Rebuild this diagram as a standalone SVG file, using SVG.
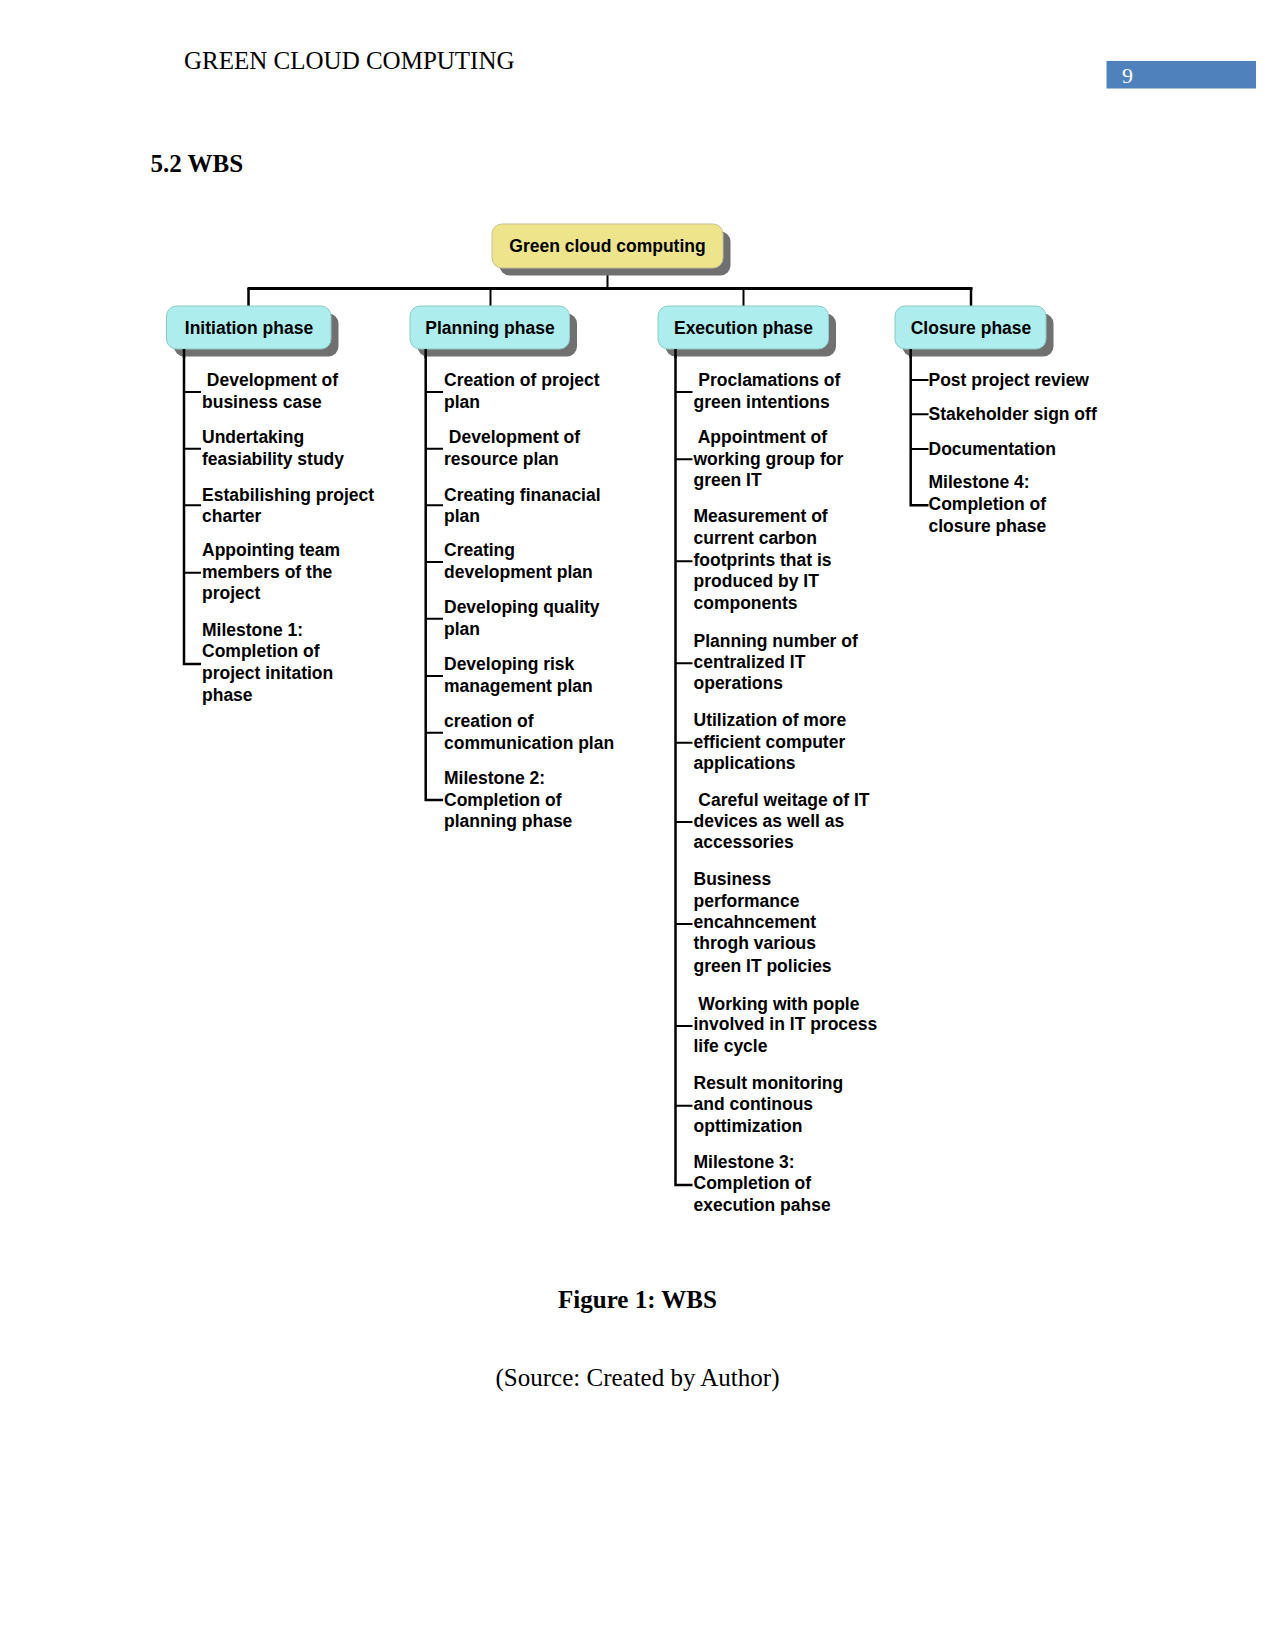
<svg xmlns="http://www.w3.org/2000/svg" width="1275" height="1651" viewBox="0 0 1275 1651">
<style>
.hdr{font-family:"Liberation Serif","Times New Roman",serif;font-size:25px;fill:#000}
.cap{font-family:"Liberation Serif","Times New Roman",serif;font-size:25px;fill:#000;text-anchor:middle}
.b{font-weight:bold}
.box{font-family:"Liberation Sans",Arial,sans-serif;font-size:17.5px;font-weight:bold;fill:#000;text-anchor:middle}
.t{font-family:"Liberation Sans",Arial,sans-serif;font-size:17.5px;font-weight:bold;fill:#000}
.shadow{fill:#707070}
.root{fill:#EEE48C;stroke:#C8C090;stroke-width:1}
.phase{fill:#AEEDED;stroke:#90C8C8;stroke-width:1}
.ln{stroke:#000;fill:none;stroke-width:2.5}
.thin{stroke:#000;fill:none;stroke-width:2}
</style>
<rect width="1275" height="1651" fill="#fff"/>
<text class="hdr" x="184" y="69">GREEN CLOUD COMPUTING</text>
<rect x="1106.5" y="61" width="149.5" height="27.5" fill="#4F81BD"/>
<text class="hdr" x="1122" y="82.5" style="font-size:22px;fill:#fff">9</text>
<text class="hdr b" x="150.5" y="172">5.2 WBS</text>

<g id="connectors">
<line class="thin" x1="607.5" y1="268" x2="607.5" y2="288.5"/>
<line class="ln" x1="247.5" y1="288.5" x2="972.5" y2="288.5" style="stroke-width:3"/>
<line class="ln" x1="248.5" y1="288" x2="248.5" y2="306"/>
<line class="thin" x1="490.5" y1="288" x2="490.5" y2="306"/>
<line class="thin" x1="743.5" y1="288" x2="743.5" y2="306"/>
<line class="ln" x1="971" y1="288" x2="971" y2="306"/>
<!-- initiation -->
<path class="ln" d="M184 349 V664 H201"/>
<path class="thin" d="M184 392 H201 M184 448.7 H201 M184 505.3 H201 M184 572.7 H201"/>
<!-- planning -->
<path class="ln" d="M425.7 349 V800 H443"/>
<path class="thin" d="M425.7 392 H443 M425.7 448.7 H443 M425.7 505.3 H443 M425.7 562 H443 M425.7 618.7 H443 M425.7 676 H443 M425.7 732.7 H443"/>
<!-- execution -->
<path class="ln" d="M675.5 349 V1185 H692.5"/>
<path class="thin" d="M675.5 392 H692.5 M675.5 459.3 H692.5 M675.5 561.3 H692.5 M675.5 663.3 H692.5 M675.5 742.7 H692.5 M675.5 822 H692.5 M675.5 924 H692.5 M675.5 1026 H692.5 M675.5 1105.7 H692.5"/>
<!-- closure -->
<path class="ln" d="M910.7 349 V505.3 H928.5"/>
<path class="thin" d="M910.7 380 H928.5 M910.7 414.3 H928.5 M910.7 449 H928.5"/>
</g>

<g id="root">
<rect class="shadow" x="499.5" y="231.5" width="231" height="44" rx="10"/>
<rect class="root" x="492" y="224" width="231" height="44" rx="10"/>
<text class="box" x="607.5" y="252">Green cloud computing</text>
</g>
<g id="initiation">
<rect class="shadow" x="174" y="313.5" width="164.5" height="43" rx="10"/>
<rect class="phase" x="166.5" y="306" width="164.5" height="43" rx="10"/>
<text class="box" x="249" y="333.5">Initiation phase</text>
</g>
<g id="planning">
<rect class="shadow" x="417.5" y="313.5" width="159.5" height="43" rx="10"/>
<rect class="phase" x="410" y="306" width="159.5" height="43" rx="10"/>
<text class="box" x="490" y="333.5">Planning phase</text>
</g>
<g id="execution">
<rect class="shadow" x="665.5" y="313.5" width="170.5" height="43" rx="10"/>
<rect class="phase" x="658" y="306" width="170.5" height="43" rx="10"/>
<text class="box" x="743.5" y="333.5">Execution phase</text>
</g>
<g id="closure">
<rect class="shadow" x="902.5" y="313.5" width="151" height="43" rx="10"/>
<rect class="phase" x="895" y="306" width="151" height="43" rx="10"/>
<text class="box" x="971" y="333.5">Closure phase</text>
</g>

<!-- re-draw child verticals over shadows -->
<g id="connectors-over">
<line class="ln" x1="184" y1="349" x2="184" y2="358"/>
<line class="ln" x1="425.7" y1="349" x2="425.7" y2="358"/>
<line class="ln" x1="675.5" y1="349" x2="675.5" y2="358"/>
<line class="ln" x1="910.7" y1="349" x2="910.7" y2="358"/>
</g>

<g id="initiation-items">
<text class="t" xml:space="preserve"><tspan x="202" y="386"> Development of</tspan><tspan x="202" y="408.3">business case</tspan></text>
<text class="t"><tspan x="202" y="443.3">Undertaking</tspan><tspan x="202" y="465">feasiability study</tspan></text>
<text class="t"><tspan x="202" y="500.7">Estabilishing project</tspan><tspan x="202" y="521.7">charter</tspan></text>
<text class="t"><tspan x="202" y="556">Appointing team</tspan><tspan x="202" y="578.3">members of the</tspan><tspan x="202" y="599.3">project</tspan></text>
<text class="t"><tspan x="202" y="636">Milestone 1:</tspan><tspan x="202" y="657.3">Completion of</tspan><tspan x="202" y="679.3">project initation</tspan><tspan x="202" y="700.7">phase</tspan></text>
</g>
<g id="planning-items">
<text class="t"><tspan x="444" y="386">Creation of project</tspan><tspan x="444" y="408.3">plan</tspan></text>
<text class="t" xml:space="preserve"><tspan x="444" y="443.3"> Development of</tspan><tspan x="444" y="465">resource plan</tspan></text>
<text class="t"><tspan x="444" y="500.7">Creating finanacial</tspan><tspan x="444" y="521.7">plan</tspan></text>
<text class="t"><tspan x="444" y="556">Creating</tspan><tspan x="444" y="578.3">development plan</tspan></text>
<text class="t"><tspan x="444" y="613.3">Developing quality</tspan><tspan x="444" y="635">plan</tspan></text>
<text class="t"><tspan x="444" y="670">Developing risk</tspan><tspan x="444" y="692.3">management plan</tspan></text>
<text class="t"><tspan x="444" y="726.7">creation of</tspan><tspan x="444" y="748.7">communication plan</tspan></text>
<text class="t"><tspan x="444" y="783.7">Milestone 2:</tspan><tspan x="444" y="805.5">Completion of</tspan><tspan x="444" y="827">planning phase</tspan></text>
</g>
<g id="execution-items">
<text class="t" xml:space="preserve"><tspan x="693.5" y="386"> Proclamations of</tspan><tspan x="693.5" y="408.3">green intentions</tspan></text>
<text class="t" xml:space="preserve"><tspan x="693.5" y="443.3"> Appointment of</tspan><tspan x="693.5" y="465">working group for</tspan><tspan x="693.5" y="486">green IT</tspan></text>
<text class="t"><tspan x="693.5" y="521.7">Measurement of</tspan><tspan x="693.5" y="544">current carbon</tspan><tspan x="693.5" y="566">footprints that is</tspan><tspan x="693.5" y="587.3">produced by IT</tspan><tspan x="693.5" y="609">components</tspan></text>
<text class="t"><tspan x="693.5" y="646.7">Planning number of</tspan><tspan x="693.5" y="667.7">centralized IT</tspan><tspan x="693.5" y="689.3">operations</tspan></text>
<text class="t"><tspan x="693.5" y="726">Utilization of more</tspan><tspan x="693.5" y="748.3">efficient computer</tspan><tspan x="693.5" y="769.3">applications</tspan></text>
<text class="t" xml:space="preserve"><tspan x="693.5" y="806"> Careful weitage of IT</tspan><tspan x="693.5" y="826.7">devices as well as</tspan><tspan x="693.5" y="848.3">accessories</tspan></text>
<text class="t"><tspan x="693.5" y="885">Business</tspan><tspan x="693.5" y="906.7">performance</tspan><tspan x="693.5" y="927.7">encahncement</tspan><tspan x="693.5" y="949.3">throgh various</tspan><tspan x="693.5" y="971.7">green IT policies</tspan></text>
<text class="t" xml:space="preserve"><tspan x="693.5" y="1010"> Working with pople</tspan><tspan x="693.5" y="1030">involved in IT process</tspan><tspan x="693.5" y="1052.3">life cycle</tspan></text>
<text class="t"><tspan x="693.5" y="1089">Result monitoring</tspan><tspan x="693.5" y="1110">and continous</tspan><tspan x="693.5" y="1131.7">opttimization</tspan></text>
<text class="t"><tspan x="693.5" y="1167.7">Milestone 3:</tspan><tspan x="693.5" y="1189.3">Completion of</tspan><tspan x="693.5" y="1211">execution pahse</tspan></text>
</g>
<g id="closure-items">
<text class="t" x="928.5" y="386">Post project review</text>
<text class="t" x="928.5" y="420">Stakeholder sign off</text>
<text class="t" x="928.5" y="455">Documentation</text>
<text class="t"><tspan x="928.5" y="488.3">Milestone 4:</tspan><tspan x="928.5" y="510">Completion of</tspan><tspan x="928.5" y="531.7">closure phase</tspan></text>
</g>

<text class="cap b" x="637.5" y="1308">Figure 1: WBS</text>
<text class="cap" x="637.5" y="1386">(Source: Created by Author)</text>
</svg>
